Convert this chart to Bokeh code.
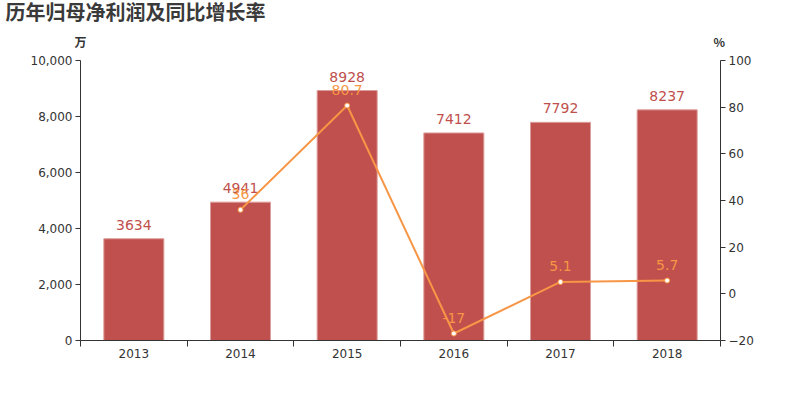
from bokeh.plotting import figure
from bokeh.models import (Range1d, LinearAxis, FixedTicker, NumeralTickFormatter,
                          ColumnDataSource, Legend, LegendItem, Title)
from bokeh.core.properties import value
from bokeh.embed import file_html
from bokeh.resources import INLINE

years = ["2013", "2014", "2015", "2016", "2017", "2018"]
profit = [3634, 4941, 8928, 7412, 7792, 8237]
growth = [None, 36, 80.7, -17, 5.1, 5.7]
profit_ticks = [0, 2000, 4000, 6000, 8000, 10000]
pct_ticks = [-20, 0, 20, 40, 60, 80, 100]

title_text = "历年归母净利润及同比增长率"
left_unit = "万"
right_unit = "%"
bar_name = "归母净利润（万）"
line_name = "同比增长率"

BAR = "#c0504d"
LINE = "#f79646"
TXT = "#333333"
NUM_FONT = "DejaVu Sans"
CJK_FONT = "Noto Sans CJK SC"

FL, FR, FT, FB = 80, 80, 60, 60
p = figure(frame_width=640, frame_height=280, output_backend="svg", toolbar_location=None,
           x_range=Range1d(0, len(years)), y_range=Range1d(0, 10000),
           min_border_left=FL, min_border_right=FR, min_border_top=FT, min_border_bottom=FB)
p.extra_y_ranges = {"pct": Range1d(-20, 100)}
p.grid.visible = False
p.outline_line_color = None
p.xaxis.visible = False
p.yaxis.visible = False

xs = [i + 0.5 for i in range(len(years))]
bar_src = ColumnDataSource(dict(x=xs, top=profit, label=[str(v) for v in profit]))
lx = [x for x, g in zip(xs, growth) if g is not None]
ly = [g for g in growth if g is not None]
line_src = ColumnDataSource(dict(x=lx, y=ly, label=[("%g" % g) for g in ly]))

bars = p.vbar(x="x", top="top", width=0.5625, source=bar_src, fill_color=BAR,
              line_color="#dc9e9c", line_width=1)
p.text(x="x", y="top", text="label", source=bar_src, text_align="center",
       text_baseline="bottom", y_offset=-9, text_color=BAR, text_font_size="14px",
       text_font=value(NUM_FONT))

ln = p.line(x="x", y="y", source=line_src, line_color=LINE, line_width=2, y_range_name="pct")
p.scatter(x="x", y="y", source=line_src, size=5, fill_color="white", line_color=LINE,
          line_width=1, y_range_name="pct")
p.text(x="x", y="y", text="label", source=line_src, text_align="center",
       text_baseline="bottom", y_offset=-11, text_color=LINE, text_font_size="14px",
       text_font=value(NUM_FONT), y_range_name="pct")

def style_axis(ax):
    ax.axis_line_color = TXT
    ax.major_tick_line_color = TXT
    ax.minor_tick_line_color = None
    ax.major_tick_out = 5
    ax.major_tick_in = 0
    ax.major_label_text_color = TXT
    ax.major_label_text_font = NUM_FONT
    ax.major_label_text_font_size = "12px"
    ax.major_label_standoff = 3

left = LinearAxis(ticker=FixedTicker(ticks=profit_ticks), formatter=NumeralTickFormatter(format="0,0"))
style_axis(left)
p.add_layout(left, "left")

right = LinearAxis(y_range_name="pct", ticker=FixedTicker(ticks=pct_ticks))
style_axis(right)
p.add_layout(right, "right")

bottom = LinearAxis(ticker=FixedTicker(ticks=xs, minor_ticks=list(range(len(years) + 1))),
                    major_label_overrides={x: y for x, y in zip(xs, years)})
style_axis(bottom)
bottom.major_tick_line_color = None
bottom.major_tick_out = 0
bottom.minor_tick_line_color = TXT
bottom.minor_tick_out = 6
bottom.minor_tick_in = 0
bottom.major_label_standoff = 2
p.add_layout(bottom, "below")

# unit row: "万" over the left axis, "%" over the right axis (ideographic spaces between)
unit_text = left_unit + "\u3000" * 52 + "\u2005" + right_unit
p.add_layout(Title(text=unit_text, align="left", offset=-6, standoff=22,
                   text_font=CJK_FONT, text_font_size="12px", text_font_style="bold",
                   text_color=TXT), "above")
p.title.text = title_text
p.title.align = "left"
p.title.offset = 5 - FL
p.title.standoff = -12
p.title.text_font = CJK_FONT
p.title.text_font_size = "20px"
p.title.text_font_style = "bold"
p.title.text_color = "#3a3a3a"

# legend proxy for the line series (larger marker, not drawn in the plot area)
proxy = p.scatter(x=[float("nan")], y=[float("nan")], size=10, fill_color="white",
                  line_color=LINE, line_width=1, y_range_name="pct")
legend = Legend(items=[LegendItem(label=bar_name, renderers=[bars]),
                       LegendItem(label=line_name, renderers=[ln, proxy])],
                orientation="horizontal", location="center", padding=0, margin=0,
                spacing=18, glyph_width=24, glyph_height=14, label_height=14,
                label_standoff=7, label_text_font=CJK_FONT, label_text_font_size="12px",
                label_text_color=TXT, border_line_color=None, background_fill_alpha=0)
p.add_layout(legend, "below")

open("out.html", "w").write(file_html(p, INLINE))
